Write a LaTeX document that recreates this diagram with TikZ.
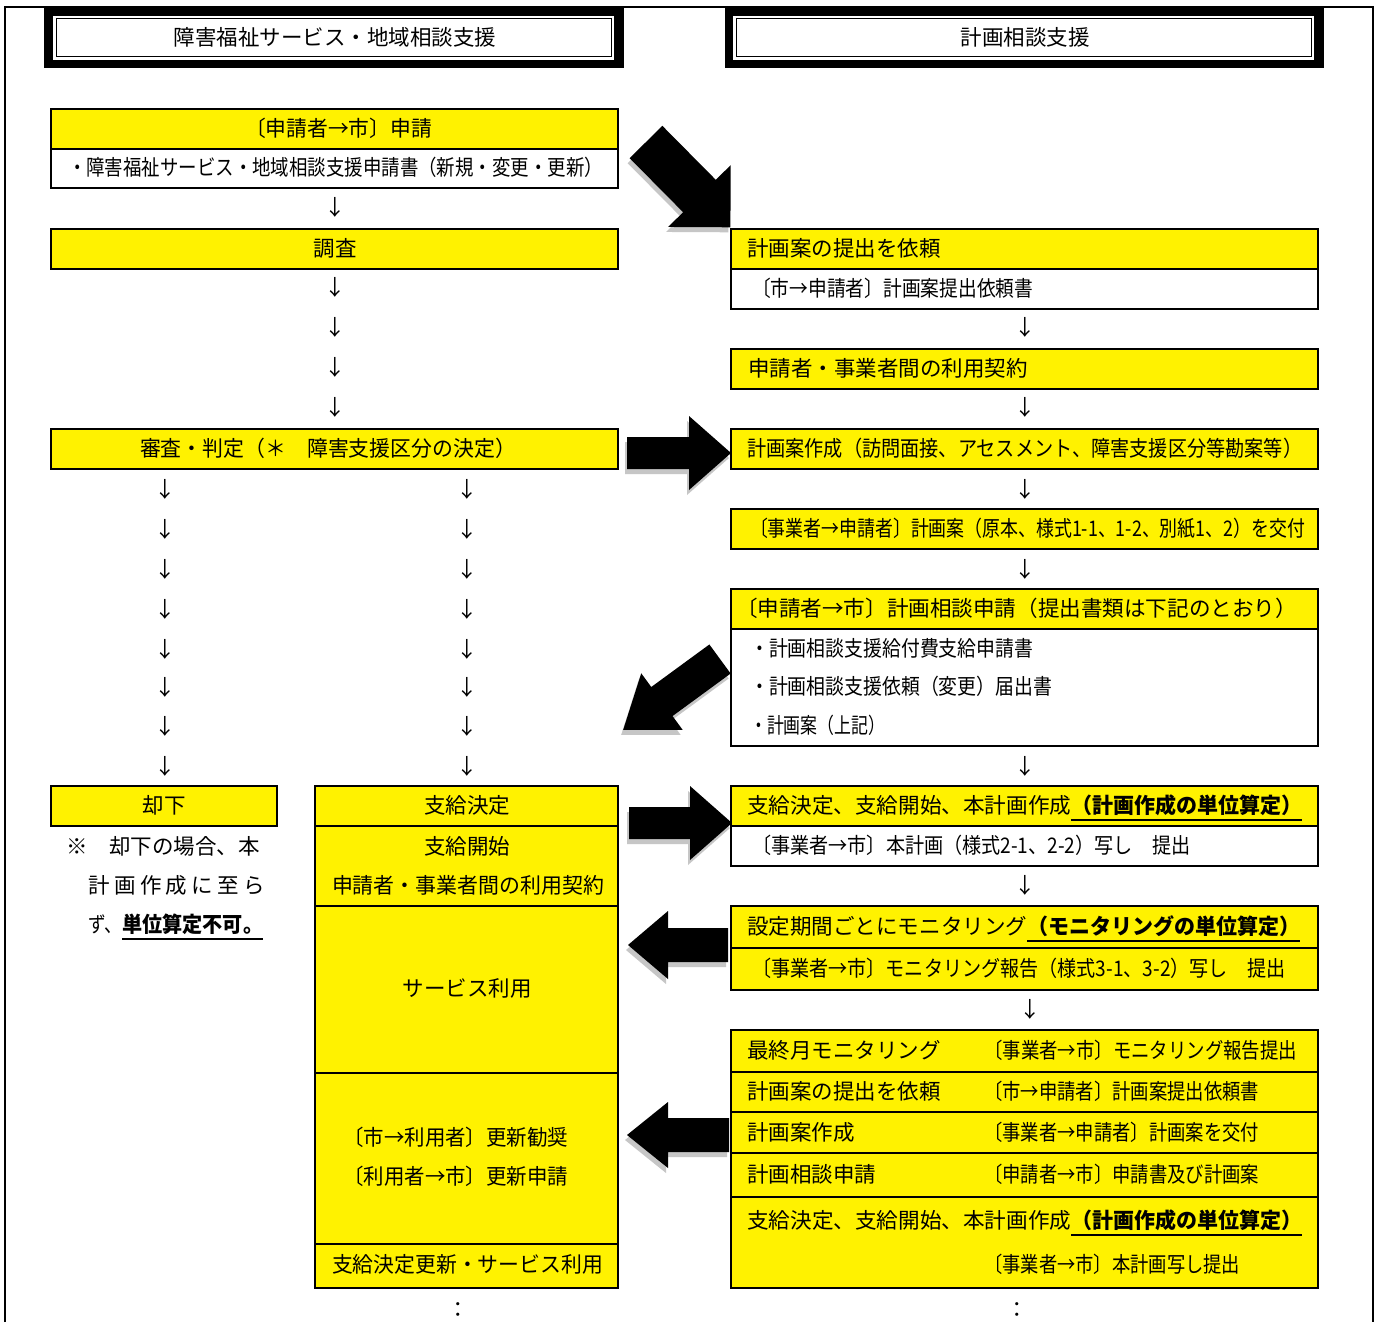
\documentclass[tikz,border=0pt]{standalone}
\usepackage{fontspec}
\usepackage{graphicx}
\setmainfont{Noto Sans CJK JP}
\newcommand\fw[2]{\resizebox{#1pt}{\height}{#2}}
\newcommand\ulb[2]{\mbox{\rlap{\rule[-7pt]{#1pt}{2pt}}\resizebox{#1pt}{\height}{\bfseries #2}}}
\newcommand\blockarrow[7]{%
  \pgfmathsetmacro\baA{#4-#7}%
  \begin{scope}[shift={(#1-2,#2+5)}, rotate=#3]
    \fill[gray!45] (0,-#5) -- (\baA,-#5) -- (\baA,-#6) -- (#4,0) -- (\baA,#6) -- (\baA,#5) -- (0,#5) -- cycle;
  \end{scope}
  \begin{scope}[shift={(#1,#2)}, rotate=#3]
    \fill[black] (0,-#5) -- (\baA,-#5) -- (\baA,-#6) -- (#4,0) -- (\baA,#6) -- (\baA,#5) -- (0,#5) -- cycle;
  \end{scope}}
\begin{document}
\begin{tikzpicture}[x=1pt,y=-1pt,
  font=\fontsize{21.5}{26}\selectfont,
  tx/.style={inner sep=0pt, text height=17.5pt, text depth=2.1pt},
  box/.style={draw=black, line width=2.5pt},
  ybox/.style={box, fill=yellow},
  wbox/.style={box, fill=white}]
\useasboundingbox (0,0) rectangle (1378,1322);
\fill[white] (0,0) rectangle (1378,1322);
% outer frame
\draw[line width=1.5pt] (5,1322) -- (5,7) -- (1373,7) -- (1373,1322);
% headers
\fill[black] (44,8) rectangle (624,68);
\fill[white] (53,16) rectangle (614,60);
\draw[line width=1pt] (56,19) rectangle (611,57);
\node[tx] (h1) at (335,38) {障害福祉サービス・地域相談支援};
\fill[black] (725,8) rectangle (1324,68);
\fill[white] (733,16) rectangle (1314,60);
\draw[line width=1pt] (736,19) rectangle (1311,57);
\node[tx] (h2) at (1025,38) {計画相談支援};
% ---------- left column ----------
\draw[ybox] (51,109) rectangle (618,149);
\draw[wbox] (51,149) rectangle (618,188);
\node[tx] (a1) at (338.5,129) {\fw{187}{〔申請者→市〕申請}};
\node[tx] (a2) at (335.5,168) {\fw{535}{・障害福祉サービス・地域相談支援申請書（新規・変更・更新）}};
\node[tx] (d0) at (335,208) {↓};
\draw[ybox] (51,229) rectangle (618,269);
\node[tx] (a3) at (335,249) {調査};
\foreach \y [count=\i] in {288,328,368,408} {\node[tx] (dl\i) at (335,\y) {↓};}
\draw[ybox] (51,429) rectangle (618,469);
\node[tx] (a4) at (328,449) {\fw{376}{審査・判定（＊　障害支援区分の決定）}};
\foreach \y [count=\i] in {490,530,570,610,650,688,727,767} {
  \node[tx] (dk\i) at (165,\y) {↓};
  \node[tx] (ds\i) at (467,\y) {↓};}
% reject
\draw[ybox] (51,786) rectangle (277,826);
\node[tx] (r1) at (164,806) {却下};
\node[tx, anchor=west] (n1) at (66,847) {※　却下の場合、本};
\node[tx, anchor=west] (n2) at (88,886) {\makebox[177pt][s]{計\hfill 画\hfill 作\hfill 成\hfill に\hfill 至\hfill ら}};
\node[tx, anchor=west] (n3) at (88,925) {\fw{34}{ず、}\ulb{141}{単位算定不可。}};
% supply column
\draw[ybox] (315,786) rectangle (618,826);
\draw[ybox] (315,826) rectangle (618,906);
\draw[ybox] (315,906) rectangle (618,1073);
\draw[ybox] (315,1073) rectangle (618,1244);
\draw[ybox] (315,1244) rectangle (618,1288);
\node[tx] (s1) at (467,806) {支給決定};
\node[tx] (s2) at (467,847) {支給開始};
\node[tx] (s3) at (468,886) {\fw{272}{申請者・事業者間の利用契約}};
\node[tx] (s4) at (467,989) {サービス利用};
\node[tx, anchor=west] (s5) at (343,1138) {\fw{225}{〔市→利用者〕更新勧奨}};
\node[tx, anchor=west] (s6) at (343,1177) {\fw{225}{〔利用者→市〕更新申請}};
\node[tx] (s7) at (467.5,1265) {\fw{271}{支給決定更新・サービス利用}};
\node[tx] (e1) at (458,1310) {：};
% ---------- right column ----------
\draw[ybox] (731,229) rectangle (1318,269);
\draw[wbox] (731,269) rectangle (1318,309);
\node[tx, anchor=west] (b1) at (747,249) {計画案の提出を依頼};
\node[tx, anchor=west] (b2) at (752,289) {\fw{281}{〔市→申請者〕計画案提出依頼書}};
\node[tx] (dr1) at (1025,328) {↓};
\draw[ybox] (731,349) rectangle (1318,389);
\node[tx, anchor=west] (b3) at (748,369) {申請者・事業者間の利用契約};
\node[tx] (dr2) at (1025,408) {↓};
\draw[ybox] (731,429) rectangle (1318,469);
\node[tx, anchor=west] (b4) at (747,449) {\fw{555}{計画案作成（訪問面接、アセスメント、障害支援区分等勘案等）}};
\node[tx] (dr3) at (1025,490) {↓};
\draw[ybox] (731,509) rectangle (1318,549);
\node[tx] (b5) at (1027.5,529) {\fw{555}{〔事業者→申請者〕計画案（原本、様式1-1、1-2、別紙1、2）を交付}};
\node[tx] (dr4) at (1025,570) {↓};
\draw[ybox] (731,589) rectangle (1318,629);
\draw[wbox] (731,629) rectangle (1318,746);
\node[tx] (b6) at (1016.5,609) {\fw{561}{〔申請者→市〕計画相談申請（提出書類は下記のとおり）}};
\node[tx, anchor=west] (b7) at (750,649) {\fw{283}{・計画相談支援給付費支給申請書}};
\node[tx, anchor=west] (b8) at (750,687) {\fw{302}{・計画相談支援依頼（変更）届出書}};
\node[tx, anchor=west] (b9) at (750,726) {\fw{135}{・計画案（上記）}};
\node[tx] (dr5) at (1025,767) {↓};
\draw[ybox] (731,786) rectangle (1318,826);
\draw[wbox] (731,826) rectangle (1318,866);
\node[tx, anchor=west] (b10) at (747,806) {\fw{324}{支給決定、支給開始、本計画作成}\ulb{231}{（計画作成の単位算定）}};
\node[tx, anchor=west] (b11) at (752,846) {\fw{438}{〔事業者→市〕本計画（様式2-1、2-2）写し　提出}};
\node[tx] (dr6) at (1025,886) {↓};
\draw[ybox] (731,906) rectangle (1318,948);
\draw[ybox] (731,948) rectangle (1318,990);
\node[tx, anchor=west] (b12) at (747,927) {\fw{280}{設定期間ごとにモニタリング}\ulb{273}{（モニタリングの単位算定）}};
\node[tx, anchor=west] (b13) at (752,969) {\fw{533}{〔事業者→市〕モニタリング報告（様式3-1、3-2）写し　提出}};
\node[tx] (dr7) at (1030,1010) {↓};
\draw[ybox] (731,1030) rectangle (1318,1072);
\draw[ybox] (731,1072) rectangle (1318,1112);
\draw[ybox] (731,1112) rectangle (1318,1153);
\draw[ybox] (731,1153) rectangle (1318,1197);
\draw[ybox] (731,1197) rectangle (1318,1288);
\node[tx, anchor=west] (c1) at (747,1051) {最終月モニタリング};
\node[tx, anchor=west] (c2) at (984,1051) {\fw{313}{〔事業者→市〕モニタリング報告提出}};
\node[tx, anchor=west] (c3) at (747,1092) {計画案の提出を依頼};
\node[tx, anchor=west] (c4) at (984,1092) {\fw{275}{〔市→申請者〕計画案提出依頼書}};
\node[tx, anchor=west] (c5) at (747,1133) {計画案作成};
\node[tx, anchor=west] (c6) at (984,1133) {\fw{275}{〔事業者→申請者〕計画案を交付}};
\node[tx, anchor=west] (c7) at (747,1175) {計画相談申請};
\node[tx, anchor=west] (c8) at (984,1175) {\fw{275}{〔申請者→市〕申請書及び計画案}};
\node[tx, anchor=west] (c9) at (747,1221) {\fw{324}{支給決定、支給開始、本計画作成}\ulb{231}{（計画作成の単位算定）}};
\node[tx, anchor=west] (c10) at (984,1265) {\fw{256}{〔事業者→市〕本計画写し提出}};
\node[tx] (e2) at (1017,1310) {：};
% ---------- block arrows ----------
\blockarrow{646}{142}{-45.3}{120}{23}{44}{44}
\blockarrow{627}{453}{0}{104}{16}{37}{42}
\blockarrow{720}{659}{216.2}{120}{18}{35}{48}
\blockarrow{629}{823}{0}{103}{16}{37}{42}
\blockarrow{728}{945}{180}{100}{17}{34}{40}
\blockarrow{729}{1135}{180}{102}{17}{33}{41}
\end{tikzpicture}
\end{document}
